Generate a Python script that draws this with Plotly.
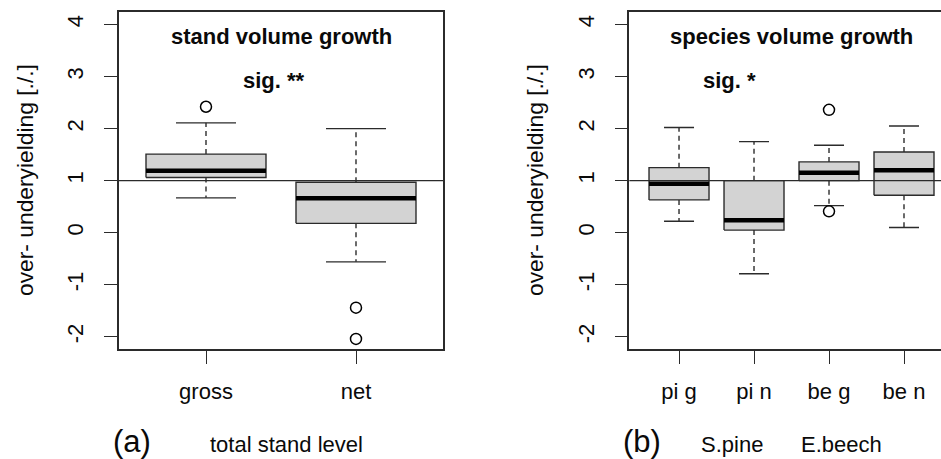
import plotly.graph_objects as go

W, H = 941, 459

# ---------------- data ----------------
stand_cats = ["gross", "net"]
stand_lower = [0.67, -0.56]
stand_q1 = [1.06, 0.18]
stand_median = [1.19, 0.66]
stand_q3 = [1.51, 0.97]
stand_upper = [2.11, 2.00]
stand_outliers = [[2.42], [-1.44, -2.04]]

species_cats = ["pi g", "pi n", "be g", "be n"]
species_lower = [0.22, -0.79, 0.52, 0.10]
species_q1 = [0.63, 0.05, 1.00, 0.72]
species_median = [0.94, 0.24, 1.15, 1.20]
species_q3 = [1.25, 1.00, 1.36, 1.55]
species_upper = [2.02, 1.75, 1.68, 2.05]
species_outliers = [[], [], [2.36, 0.41], []]

y_ticks = [-2, -1, 0, 1, 2, 3, 4]

# ---------------- style ----------------
FONT = "Liberation Sans, Arial, sans-serif"
LINE = "#2b2b2b"
FILL = "#d3d3d3"
TXT = "#0a0a0a"
BOXW = 0.4
CAPW = 0.2

fig = go.Figure()


def add_boxes(xa, ya, lower, q1, med, q3, upper, outl):
    for i in range(len(med)):
        xc = i + 1
        # box
        fig.add_trace(go.Scatter(
            x=[xc - BOXW, xc + BOXW, xc + BOXW, xc - BOXW, xc - BOXW],
            y=[q1[i], q1[i], q3[i], q3[i], q1[i]],
            mode="lines", fill="toself", fillcolor=FILL,
            line=dict(color=LINE, width=1.4), xaxis=xa, yaxis=ya,
            hoverinfo="skip", showlegend=False))
        # median
        fig.add_trace(go.Scatter(
            x=[xc - BOXW, xc + BOXW], y=[med[i], med[i]], mode="lines",
            line=dict(color="black", width=4.5), xaxis=xa, yaxis=ya,
            hoverinfo="skip", showlegend=False))
        # whiskers
        for a, b in ((q3[i], upper[i]), (q1[i], lower[i])):
            fig.add_trace(go.Scatter(
                x=[xc, xc], y=[a, b], mode="lines",
                line=dict(color=LINE, width=1.4, dash="5px,4px"),
                xaxis=xa, yaxis=ya, hoverinfo="skip", showlegend=False))
        # caps
        for v in (upper[i], lower[i]):
            fig.add_trace(go.Scatter(
                x=[xc - CAPW, xc + CAPW], y=[v, v], mode="lines",
                line=dict(color=LINE, width=1.4), xaxis=xa, yaxis=ya,
                hoverinfo="skip", showlegend=False))
        # outliers
        if outl[i]:
            fig.add_trace(go.Scatter(
                x=[xc] * len(outl[i]), y=outl[i], mode="markers",
                marker=dict(symbol="circle-open", size=11, color="black",
                            line=dict(width=1.5, color="black")),
                xaxis=xa, yaxis=ya, hoverinfo="skip", showlegend=False))


add_boxes("x", "y", stand_lower, stand_q1, stand_median, stand_q3, stand_upper, stand_outliers)
add_boxes("x2", "y2", species_lower, species_q1, species_median, species_q3, species_upper, species_outliers)

y_dom = [1 - 349.3 / H, 1 - 12 / H]
yr = [-2.24, 4.24]

common_x = dict(showgrid=False, zeroline=False, showline=True, linecolor=LINE, linewidth=1.5,
                ticks="outside", ticklen=13, tickwidth=1.4, tickcolor=LINE,
                tickfont=dict(family=FONT, size=22, color=TXT), ticklabelstandoff=9)
common_y = dict(showgrid=False, zeroline=False, showline=True, linecolor=LINE, linewidth=1.5,
                ticks="outside", ticklen=13, tickwidth=1.4, tickcolor=LINE,
                tickvals=y_ticks, ticktext=[str(v) for v in y_ticks], tickangle=-90,
                tickfont=dict(family=FONT, size=22, color=TXT), range=yr, domain=y_dom,
                ticklabelstandoff=12)

fig.update_layout(
    width=W, height=H, margin=dict(l=0, r=0, t=0, b=0),
    plot_bgcolor="white", paper_bgcolor="white", showlegend=False,
    xaxis=dict(common_x, domain=[119 / W, 443 / W], range=[0.42, 2.58],
               tickvals=[1, 2], ticktext=stand_cats, mirror=True, anchor="y"),
    yaxis=dict(common_y, mirror=True, anchor="x"),
    xaxis2=dict(common_x, domain=[629.3 / W, 1.0], range=[0.337, 1 + (W - 679) / 75],
                tickvals=[1, 2, 3, 4], ticktext=species_cats, mirror=True, anchor="y2"),
    yaxis2=dict(common_y, mirror=False, anchor="x2"),
    shapes=[
        dict(type="line", xref="x domain", yref="y", x0=0, x1=1, y0=1, y1=1,
             line=dict(color=LINE, width=1.4)),
        dict(type="line", xref="x2 domain", yref="y2", x0=0, x1=1, y0=1, y1=1,
             line=dict(color=LINE, width=1.4)),
    ],
)


def px_ann(text, x, y, size=22, bold=False, angle=0):
    fig.add_annotation(
        text=("<b>%s</b>" % text) if bold else text, x=x / W, y=1 - y / H,
        xref="paper", yref="paper", xanchor="center", yanchor="middle",
        showarrow=False, textangle=angle,
        font=dict(family=FONT, size=size, color=TXT))


px_ann("stand volume growth", 281, 37, bold=True)
px_ann("sig. **", 274, 80, bold=True)
px_ann("species volume growth", 791, 37, bold=True)
px_ann("sig. *", 729, 80, bold=True)
px_ann("over- underyielding [./.]", 25, 180, size=22.8, angle=-90)
px_ann("over- underyielding [./.]", 535, 180, size=22.8, angle=-90)
px_ann("(a)", 131.5, 441, size=31)
px_ann("total stand level", 286.5, 444)
px_ann("(b)", 642, 441, size=31)
px_ann("S.pine", 731.5, 444)
px_ann("E.beech", 841.5, 444)

fig.write_html("out.html", config={"displayModeBar": False},
               post_script="document.body.style.margin='0px';document.body.style.overflow='hidden';")
